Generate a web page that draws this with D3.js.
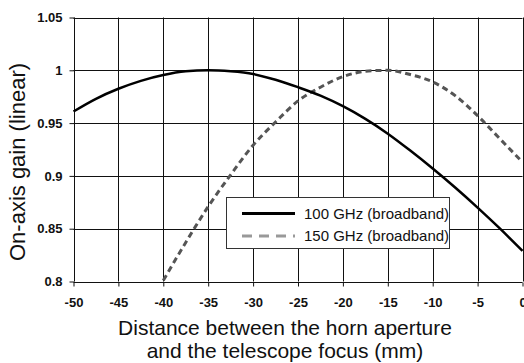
<!DOCTYPE html>
<html>
<head>
<meta charset="utf-8">
<script src="https://cdn.jsdelivr.net/npm/d3@7"></script>
<style>
  html, body { margin: 0; padding: 0; background: #fff; }
  svg { display: block; font-family: "Liberation Sans", Arial, sans-serif; }
</style>
</head>
<body>
<svg id="chart" width="524" height="363"></svg>
<script>
// ---- data ----
const xTicks = [-50, -45, -40, -35, -30, -25, -20, -15, -10, -5, 0];
const xTickLabels = ["-50", "-45", "-40", "-35", "-30", "-25", "-20", "-15", "-10", "-5", "0"];
const yTicks = [0.8, 0.85, 0.9, 0.95, 1, 1.05];
const yTickLabels = ["0.8", "0.85", "0.9", "0.95", "1", "1.05"];

const dist100 = [-50, -47.5, -45, -42.5, -40, -37.5, -35, -32.5, -30, -27.5, -25, -22.5, -20, -17.5, -15, -12.5, -10, -7.5, -5, -2.5, 0];
const gain100 = [0.961, 0.973, 0.9825, 0.990, 0.9955, 0.999, 1.000, 0.999, 0.9965, 0.991, 0.984, 0.976, 0.966, 0.954, 0.940, 0.924, 0.907, 0.889, 0.870, 0.850, 0.829];

const dist150 = [-40, -37.5, -35, -32.5, -30, -27.5, -25, -22.5, -20, -17.5, -15, -12.5, -10, -7.5, -5, -2.5, 0];
const gain150 = [0.801, 0.837, 0.871, 0.901, 0.929, 0.951, 0.971, 0.984, 0.994, 0.999, 1.000, 0.996, 0.989, 0.976, 0.957, 0.935, 0.913];

const seriesNames = ["100 GHz (broadband)", "150 GHz (broadband)"];
const yTitle = "On-axis gain (linear)";
const xTitleLines = ["Distance between the horn aperture", "and the telescope focus (mm)"];

// ---- layout ----
const svg = d3.select("#chart");
const pLeft = 73.5, pRight = 522.5, pTop = 17.5, pBottom = 281.5;

const x = d3.scaleLinear().domain([-50, 0]).range([pLeft, pRight]);
const y = d3.scaleLinear().domain([0.8, 1.05]).range([pBottom, pTop]);

// gridlines
const grid = svg.append("g");
grid.selectAll("line.v").data(xTicks).join("line")
  .attr("x1", d => Math.round(x(d)) + 0.5).attr("x2", d => Math.round(x(d)) + 0.5)
  .attr("y1", pTop).attr("y2", pBottom)
  .attr("stroke", "#111").attr("stroke-width", 1);
grid.selectAll("line.h").data(yTicks).join("line")
  .attr("y1", d => Math.round(y(d)) + 0.5).attr("y2", d => Math.round(y(d)) + 0.5)
  .attr("x1", pLeft).attr("x2", pRight)
  .attr("stroke", "#111").attr("stroke-width", 1);

// axes
const xAxis = d3.axisBottom(x).tickValues(xTicks).tickSize(4).tickPadding(11)
  .tickFormat((d, i) => xTickLabels[i]);
const gx = svg.append("g").attr("transform", `translate(0,${Math.round(pBottom) + 0.5})`).call(xAxis);
gx.select(".domain").remove();
gx.selectAll("line").attr("stroke", "#111");
gx.selectAll("text").attr("font-size", 13).attr("font-weight", "bold").attr("fill", "#111")
  .attr("font-family", "Liberation Sans, Arial, sans-serif");

const yAxis = d3.axisLeft(y).tickValues(yTicks).tickSize(5).tickPadding(7)
  .tickFormat((d, i) => yTickLabels[i]);
const gy = svg.append("g").attr("transform", `translate(${Math.round(pLeft) + 0.5},0)`).call(yAxis);
gy.select(".domain").remove();
gy.selectAll("line").attr("stroke", "#111");
gy.selectAll("text").attr("font-size", 13).attr("font-weight", "bold").attr("fill", "#111")
  .attr("font-family", "Liberation Sans, Arial, sans-serif");

// curves
const line = d3.line().x(d => x(d[0])).y(d => y(d[1])).curve(d3.curveMonotoneX);
const data100 = dist100.map((d, i) => [d, gain100[i]]);
const data150 = dist150.map((d, i) => [d, gain150[i]]);

svg.append("path").datum(data150).attr("d", line)
  .attr("fill", "none").attr("stroke", "#555").attr("stroke-width", 3)
  .attr("stroke-dasharray", "6,4");
svg.append("path").datum(data100).attr("d", line)
  .attr("fill", "none").attr("stroke", "#000").attr("stroke-width", 2.5);

// legend
const lg = svg.append("g");
lg.append("rect").attr("x", 226.5).attr("y", 197.5).attr("width", 223).attr("height", 51)
  .attr("fill", "#fff").attr("stroke", "#333").attr("stroke-width", 1);
const legendStyles = [
  { stroke: "#000", dash: null, w: 3 },
  { stroke: "#999", dash: "10,7", w: 3 }
];
seriesNames.forEach((name, i) => {
  const cy = 213.5 + i * 22.5;
  lg.append("line").attr("x1", 242).attr("x2", 295).attr("y1", cy).attr("y2", cy)
    .attr("stroke", legendStyles[i].stroke).attr("stroke-width", legendStyles[i].w)
    .attr("stroke-dasharray", legendStyles[i].dash);
  lg.append("text").attr("x", 304).attr("y", cy).attr("dy", "0.35em")
    .attr("font-size", 15).attr("fill", "#111").text(name);
});

// titles
svg.append("text").attr("transform", "translate(25,162) rotate(-90)")
  .attr("text-anchor", "middle").attr("font-size", 22).attr("fill", "#111").text(yTitle);
xTitleLines.forEach((t, i) => {
  svg.append("text").attr("x", 285).attr("y", 335 + i * 23)
    .attr("text-anchor", "middle").attr("font-size", 21).attr("fill", "#111").text(t);
});
</script>
</body>
</html>
